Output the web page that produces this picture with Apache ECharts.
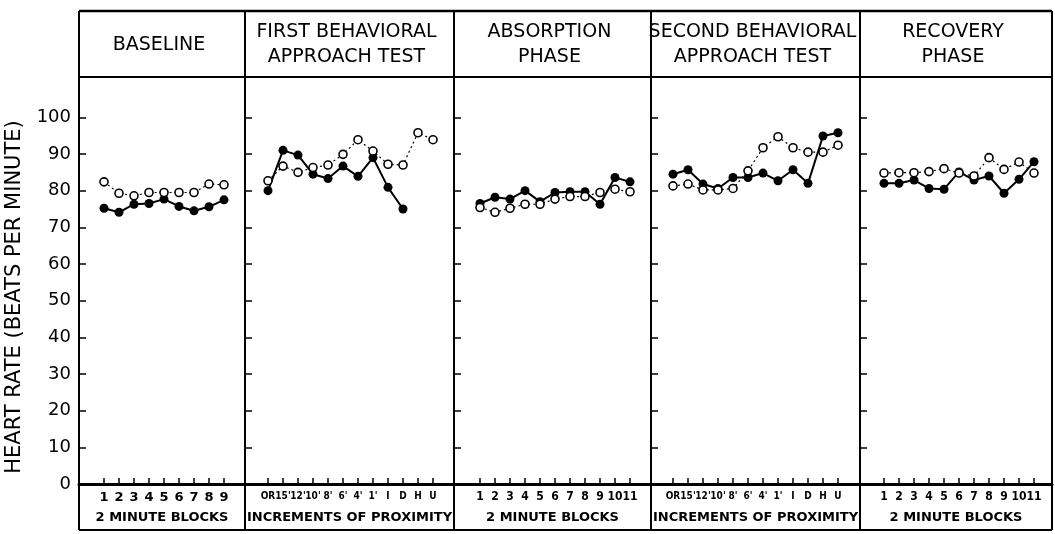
<!DOCTYPE html>
<html>
<head>
<meta charset="utf-8">
<script src="https://cdn.jsdelivr.net/npm/echarts@6/dist/echarts.min.js"></script>
<style>
  html, body { margin: 0; padding: 0; background: #fff; }
  #chart { width: 1055px; height: 534px; }
</style>
</head>
<body>
<div id="chart"></div>
<script>
// tick labels
const blockLabels9 = ["1", "2", "3", "4", "5", "6", "7", "8", "9"];
const blockLabels11 = ["1", "2", "3", "4", "5", "6", "7", "8", "9", "10", "11"];
const proximityLabels = ["OR", "15'", "12'", "10'", "8'", "6'", "4'", "1'", "I", "D", "H", "U"];
const yTicks = [0, 10, 20, 30, 40, 50, 60, 70, 80, 90, 100];

// heart rate values (filled = solid line, open = dotted line)
const baselineFilled = [75.2, 74.1, 76.3, 76.5, 77.7, 75.7, 74.5, 75.6, 77.5];
const baselineOpen = [82.4, 79.3, 78.6, 79.5, 79.5, 79.5, 79.5, 81.8, 81.6];
const firstFilled = [80.0, 91.0, 89.7, 84.5, 83.3, 86.7, 83.9, 89.0, 80.9, 75.0];
const firstOpen = [82.7, 86.7, 85.0, 86.3, 87.0, 89.9, 93.9, 90.8, 87.2, 87.0, 95.8, 93.9];
const absorptionFilled = [76.5, 78.2, 77.7, 80.0, 77.0, 79.5, 79.7, 79.7, 76.3, 83.6, 82.4];
const absorptionOpen = [75.4, 74.1, 75.2, 76.3, 76.3, 77.7, 78.4, 78.4, 79.5, 80.4, 79.7];
const secondFilled = [84.5, 85.7, 81.8, 80.6, 83.6, 83.6, 84.8, 82.7, 85.7, 82.0, 94.9, 95.8];
const secondOpen = [81.3, 81.8, 80.2, 80.2, 80.6, 85.4, 91.7, 94.7, 91.7, 90.5, 90.5, 92.4];
const recoveryFilled = [82.0, 82.0, 82.9, 80.6, 80.4, 85.1, 82.9, 84.0, 79.3, 83.1, 87.9];
const recoveryOpen = [84.8, 84.9, 84.9, 85.2, 86.0, 84.8, 84.0, 89.0, 85.8, 87.8, 84.8];

const FONT = "DejaVu Sans";
const NARROW = "DejaVu Sans Condensed";
const TOP = 77, AXIS_Y = 484, FRAME_TOP = 11, FRAME_BOTTOM = 530;
const STEP = 15; // px between blocks

const panels = [
  { left: 79, right: 245, first: 104, title: "BASELINE", labels: blockLabels9, name: "2 MINUTE BLOCKS", filled: baselineFilled, open: baselineOpen },
  { left: 245, right: 454, first: 268, title: "FIRST BEHAVIORAL\nAPPROACH TEST", labels: proximityLabels, name: "INCREMENTS OF PROXIMITY", filled: firstFilled, open: firstOpen },
  { left: 454, right: 651, first: 480, title: "ABSORPTION\nPHASE", labels: blockLabels11, name: "2 MINUTE BLOCKS", filled: absorptionFilled, open: absorptionOpen },
  { left: 651, right: 860, first: 673, title: "SECOND BEHAVIORAL\nAPPROACH TEST", labels: proximityLabels, name: "INCREMENTS OF PROXIMITY", filled: secondFilled, open: secondOpen },
  { left: 860, right: 1052, first: 884, title: "RECOVERY\nPHASE", labels: blockLabels11, name: "2 MINUTE BLOCKS", filled: recoveryFilled, open: recoveryOpen }
];

const grid = [], xAxis = [], yAxis = [], series = [], graphic = [];

panels.forEach((p, i) => {
  const idx = p.labels.map((_, k) => k + 1);
  let labelFont = { fontFamily: FONT, fontSize: 13 };
  if (p.labels === proximityLabels) labelFont = { fontFamily: NARROW, fontSize: 10 };
  if (p.labels === blockLabels11) labelFont = { fontFamily: NARROW, fontSize: 12 };
  grid.push({ left: p.left, width: p.right - p.left, top: TOP, height: AXIS_Y - TOP });
  xAxis.push({
    gridIndex: i,
    type: "value",
    min: 1 - (p.first - p.left) / STEP,
    max: 1 + (p.right - p.first) / STEP,
    axisLine: { show: true, onZero: false, lineStyle: { color: "#000", width: 3 } },
    axisTick: { show: true, inside: true, length: 6, customValues: idx, lineStyle: { color: "#000", width: 1.5 } },
    axisLabel: Object.assign({
      customValues: idx,
      showMinLabel: true,
      showMaxLabel: true,
      formatter: (v) => p.labels[Math.round(v) - 1] || "",
      margin: 7,
      color: "#000",
      fontWeight: "bold"
    }, labelFont),
    splitLine: { show: false },
    name: p.name,
    nameLocation: "middle",
    nameGap: 27,
    nameTextStyle: { color: "#000", fontFamily: FONT, fontWeight: "bold", fontSize: 13 }
  });
  yAxis.push({
    gridIndex: i,
    type: "value",
    min: 0,
    max: 111,
    axisLine: { show: true, onZero: false, lineStyle: { color: "#000", width: 2 } },
    axisTick: { show: true, inside: true, length: 7, customValues: yTicks.slice(1), lineStyle: { color: "#000", width: 1.5 } },
    axisLabel: { show: i === 0, customValues: yTicks, margin: 8, color: "#000", fontFamily: FONT, fontSize: 18 },
    splitLine: { show: false }
  });
  series.push({
    type: "line",
    xAxisIndex: i,
    yAxisIndex: i,
    data: p.filled.map((v, k) => [k + 1, v]),
    symbol: "circle",
    symbolSize: 9,
    itemStyle: { color: "#000" },
    lineStyle: { color: "#000", width: 2 },
    z: 3
  });
  series.push({
    type: "line",
    xAxisIndex: i,
    yAxisIndex: i,
    data: p.open.map((v, k) => [k + 1, v]),
    symbol: "circle",
    symbolSize: 8,
    itemStyle: { color: "#fff", borderColor: "#000", borderWidth: 1.6 },
    lineStyle: { color: "#000", width: 1.2, type: [2, 3] },
    z: 4
  });
  // divider on the left of every panel, full height
  graphic.push({ type: "line", shape: { x1: p.left, y1: FRAME_TOP, x2: p.left, y2: FRAME_BOTTOM }, style: { stroke: "#000", lineWidth: 2 } });
  graphic.push({
    type: "text",
    x: (p.left + p.right) / 2 - 3,
    y: (FRAME_TOP + TOP) / 2 + 1,
    style: { text: p.title, align: "center", verticalAlign: "middle", fontFamily: FONT, fontSize: 19, lineHeight: 25, fill: "#000" }
  });
});

graphic.push({ type: "line", shape: { x1: 1052, y1: FRAME_TOP, x2: 1052, y2: FRAME_BOTTOM }, style: { stroke: "#000", lineWidth: 2 } });
graphic.push({ type: "line", shape: { x1: 79, y1: FRAME_TOP, x2: 1052, y2: FRAME_TOP }, style: { stroke: "#000", lineWidth: 2.5 } });
graphic.push({ type: "line", shape: { x1: 79, y1: TOP, x2: 1052, y2: TOP }, style: { stroke: "#000", lineWidth: 2 } });
graphic.push({ type: "line", shape: { x1: 79, y1: FRAME_BOTTOM, x2: 1052, y2: FRAME_BOTTOM }, style: { stroke: "#000", lineWidth: 2 } });
graphic.push({
  type: "text",
  x: 15,
  y: 297,
  rotation: Math.PI / 2,
  style: { text: "HEART RATE (BEATS PER MINUTE)", align: "center", verticalAlign: "middle", fontFamily: FONT, fontSize: 21, fill: "#000" }
});

const chart = echarts.init(document.getElementById("chart"));
chart.setOption({
  animation: false,
  backgroundColor: "#fff",
  grid: grid,
  xAxis: xAxis,
  yAxis: yAxis,
  series: series,
  graphic: graphic
});
</script>
</body>
</html>
